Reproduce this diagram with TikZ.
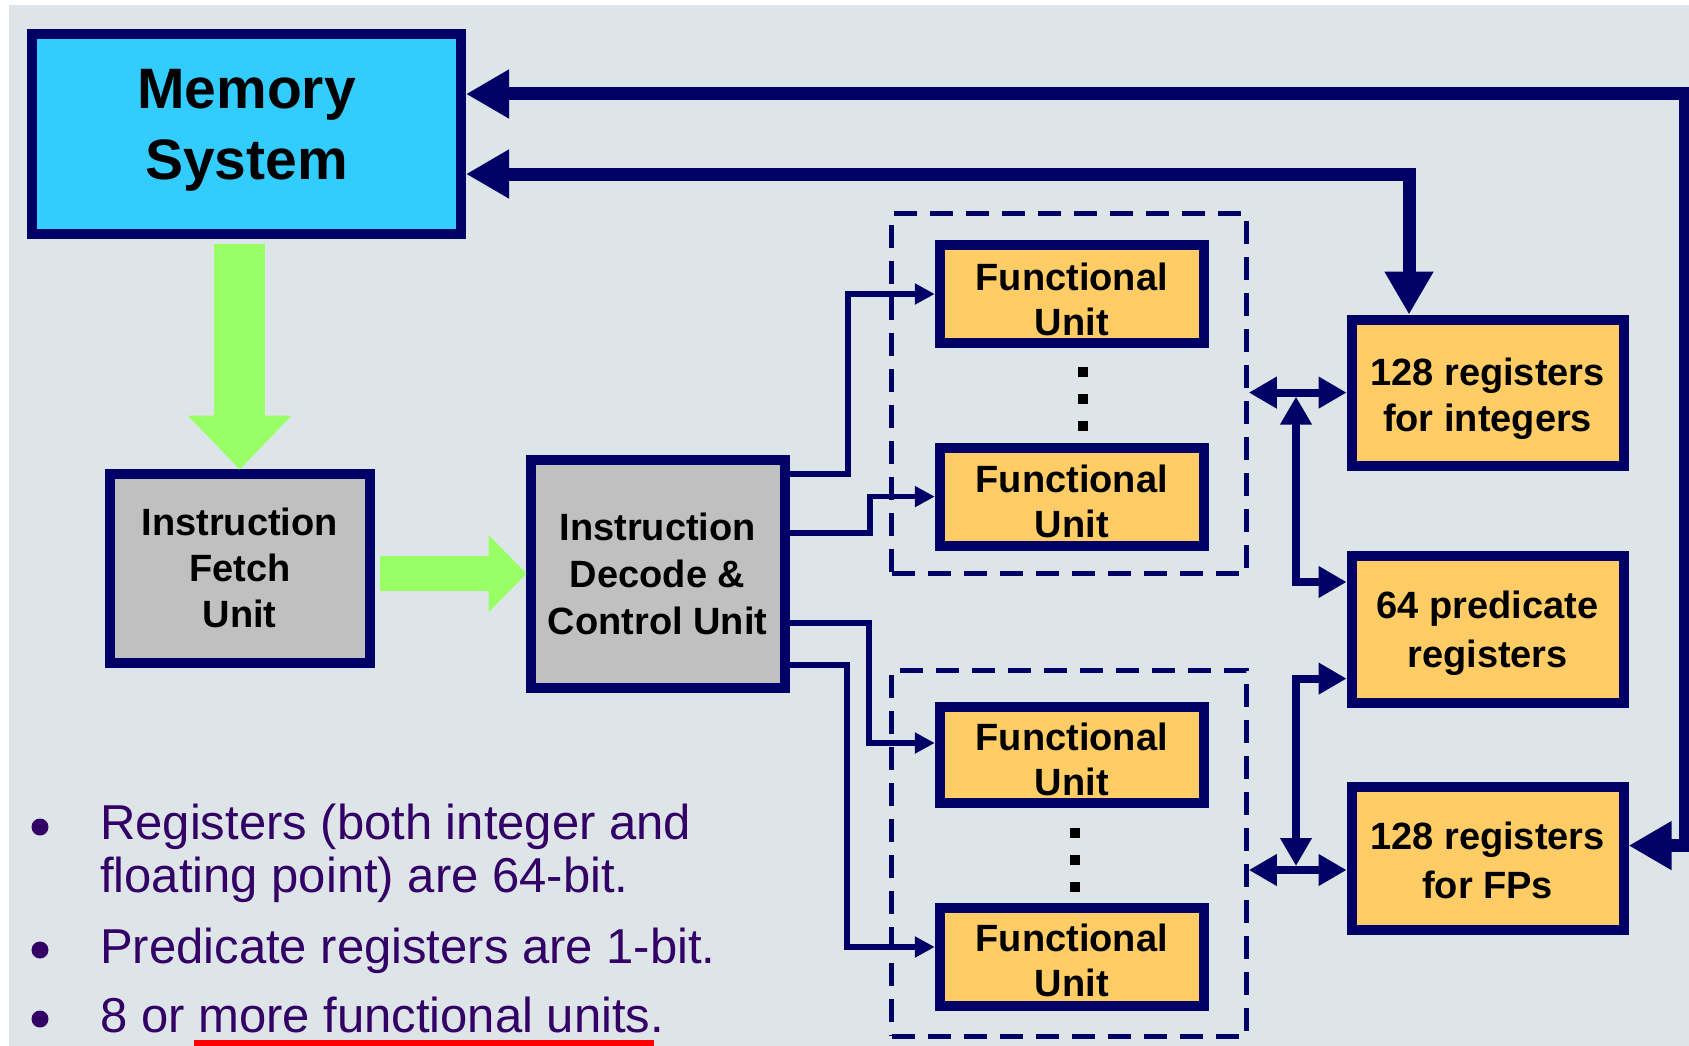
\documentclass[tikz,border=0pt]{standalone}
\usepackage{fontspec}
\setmainfont{Liberation Sans}
\usetikzlibrary{arrows.meta,calc}
\definecolor{navy}{RGB}{0,0,102}
\definecolor{memblue}{RGB}{51,204,255}
\definecolor{boxgray}{RGB}{192,192,192}
\definecolor{fuorange}{RGB}{255,204,102}
\definecolor{arrgreen}{RGB}{153,255,102}
\definecolor{bgc}{RGB}{222,229,233}
\definecolor{purp}{RGB}{51,0,102}
\newcommand{\lift}[1]{\rule{0pt}{#1pt}}
\tikzset{
  bigtip/.tip={Triangle[length=43pt,width=46pt]},
  midtip/.tip={Triangle[length=28pt,width=30pt]},
  smalltip/.tip={Triangle[length=20pt,width=20pt]},
  blockbox/.style={draw=navy, line width=10pt, inner sep=0pt, align=center,
    font=\fontsize{38}{46}\selectfont\bfseries},
  fubox/.style={blockbox, fill=fuorange, minimum width=264pt, minimum height=98pt,
    font=\fontsize{38}{45}\selectfont\bfseries},
  regbox/.style={blockbox, fill=fuorange, minimum width=272pt},
  groupbox/.style={draw=navy, line width=5pt, dash pattern=on 23pt off 13pt, inner sep=0pt},
  busline/.style={draw=navy, line width=13pt, arrows=bigtip-bigtip},
  regline/.style={draw=navy, line width=8pt, arrows=midtip-midtip},
  ctlline/.style={draw=navy, line width=5.5pt, arrows=-smalltip},
  bulltext/.style={font=\fontsize{49}{54}\selectfont, text=purp, inner sep=0pt, anchor=base west},
}
\begin{document}
\begin{tikzpicture}[x=1pt,y=-1pt]
\useasboundingbox (0,0) rectangle (1689,1046);
\fill[bgc] (9,5) rectangle (1689,1046);

% dashed groups
\node[groupbox, minimum width=354.4pt, minimum height=359.8pt] (d1) at (1069.1,393.2) {};
\node[groupbox, minimum width=354.4pt, minimum height=366.3pt] (d2) at (1069.1,853.2) {};

% main blocks
\node[blockbox, fill=memblue, minimum width=429pt, minimum height=200pt] (mem) at (246.5,134) {};
\node[font=\fontsize{57}{71}\selectfont\bfseries, align=center, inner sep=0pt] (memtext) at (246.5,130) {Memory\\System};
\node[blockbox, fill=boxgray, minimum width=260pt, minimum height=189pt] (fetch) at (239.7,568.2) {Instruction\\Fetch\\Unit};
\node[blockbox, fill=boxgray, minimum width=254pt, minimum height=228pt,
  font=\fontsize{38}{47}\selectfont\bfseries] (dec) at (657.6,573.6) {Instruction\\Decode \&\\Control Unit};

\node[fubox] (fu1) at (1071.8,294) {\lift{38}Functional\\Unit};
\node[fubox] (fu2) at (1071.8,496.6) {\lift{38}Functional\\Unit};
\node[fubox, minimum height=95.6pt] (fu3) at (1071.8,755.1) {\lift{36}Functional\\Unit};
\node[fubox] (fu4) at (1071.8,956.5) {\lift{36}Functional\\Unit};

\node[regbox, minimum height=146pt] (int) at (1487.6,392.6) {\lift{40}128 registers\\for integers};
\node[regbox, minimum height=147pt, font=\fontsize{38}{49}\selectfont\bfseries] (pred) at (1487.6,629) {\lift{36}64 predicate\\registers};
\node[regbox, minimum height=143pt, font=\fontsize{38}{49}\selectfont\bfseries] (fp) at (1487.6,858.5) {\lift{32}128 registers\\for FPs};

% ellipsis dots
\foreach \yy in {371.6,398.6,425.5} \fill[black] (1077.6,\yy-5) rectangle ++(10,10);
\foreach \yy in {832.7,859.6,886.5} \fill[black] (1070,\yy-5) rectangle ++(10,10);

% green arrows
\coordinate (g1s) at ($(fetch.north |- mem.south)+(0,5)$);
\coordinate (g1e) at ($(fetch.north)+(0,1)$);
\draw[draw=arrgreen, line width=51pt, -{Triangle[length=54pt,width=100pt]}] (g1s) -- (g1e);
\coordinate (g2s) at ($(fetch.east |- dec.west)+(5,0)$);
\coordinate (g2e) at ($(dec.west)+(1,0)$);
\draw[draw=arrgreen, line width=35.6pt, -{Triangle[length=38pt,width=75pt]}] (g2s) -- (g2e);

% memory buses
\coordinate (topR) at (1685,94);
\coordinate (fpIn) at (1685,845.6);
\draw[busline] (mem.east |- topR) -- (topR) -- (fpIn) -- (fp.east |- fpIn);
\coordinate (bend2) at (1409,174);
\draw[busline] (mem.east |- bend2) -- (bend2) -- (int.north -| bend2);

% control lines
\coordinate (c1a) at (847.8,474);
\draw[ctlline] (dec.east |- c1a) -- (c1a) |- (fu1.west);
\coordinate (c2a) at (870,533);
\draw[ctlline] (dec.east |- c2a) -- (c2a) |- (fu2.west);
\coordinate (c3a) at (869,623);
\coordinate (c3b) at (869,743);
\draw[ctlline] (dec.east |- c3a) -- (c3a) -- (c3b) -- (fu3.west |- c3b);
\coordinate (c4a) at (847,665);
\coordinate (c4b) at (847,947);
\draw[ctlline] (dec.east |- c4a) -- (c4a) -- (c4b) -- (fu4.west |- c4b);

% register connections
\draw[regline] (d1.east |- int.west) -- (int.west);
\coordinate (vb) at (1296,582);
\coordinate (vbt) at ($(vb |- int.west)+(0,4)$);
\draw[regline] (vbt) -- (vb) -- (pred.west |- vb);
\coordinate (vc) at (1296,678.6);
\coordinate (fpl) at (1296,870);
\coordinate (vcb) at ($(fpl)+(0,-4)$);
\draw[regline] (pred.west |- vc) -- (vc) -- (vcb);
\draw[regline] (d2.east |- fpl) -- (fp.west |- fpl);

% bullet text
\fill[purp] (40,827) circle (8.5pt);
\node[bulltext] (b1) at (100,839) {Registers (both integer and};
\node[bulltext] (b1b) at (100,892) {floating point) are 64-bit.};
\fill[purp] (40,950) circle (8.5pt);
\node[bulltext] (b2) at (100,963) {Predicate registers are 1-bit.};
\fill[purp] (40,1019) circle (8.5pt);
\node[bulltext] (b3) at (100,1032) {8 or more functional units.};
\fill[red] (194,1040) rectangle (654,1046);
\end{tikzpicture}
\end{document}
